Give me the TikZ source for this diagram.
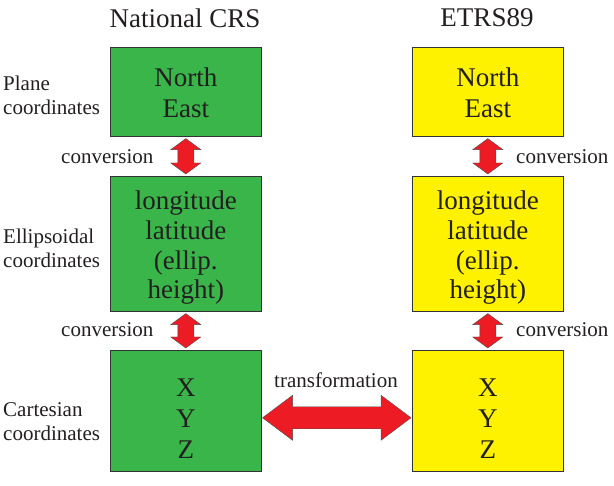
\documentclass[tikz,border=0pt]{standalone}
\usepackage{fontspec}
\setmainfont{Liberation Serif}
\usetikzlibrary{calc}
\definecolor{boxgreen}{RGB}{57,181,74}
\definecolor{boxyellow}{RGB}{255,242,0}
\definecolor{arrowred}{RGB}{237,28,36}
\definecolor{txt}{RGB}{35,31,32}
\newcommand\vdarrow[2]{%
  \filldraw[arrowstyle] (#1) -- ($(#1)+(15,11)$) -- ($(#1)+(8,11)$) -- ($(#2)+(8,-11)$) -- ($(#2)+(15,-11)$) -- (#2)
   -- ($(#2)+(-15,-11)$) -- ($(#2)+(-8,-11)$) -- ($(#1)+(-8,11)$) -- ($(#1)+(-15,11)$) -- cycle;}
\begin{document}
\begin{tikzpicture}[x=1pt,y=-1pt,
  every node/.style={text=txt, inner sep=0pt},
  crsbox/.style={draw=black!80, line width=0.6pt, anchor=north west, minimum width=151pt},
  boxtext/.style={align=center, font=\fontsize{27}{31}\selectfont},
  green/.style={fill=boxgreen},
  yellow/.style={fill=boxyellow},
  title/.style={font=\fontsize{27}{31}\selectfont},
  lbl/.style={font=\fontsize{21}{24}\selectfont, align=left, anchor=west},
  arrowstyle/.style={fill=arrowred, draw=black!70, line width=0.4pt}]
\useasboundingbox (0,0) rectangle (614,486);
% titles
\node[title] (t1) at (185,18) {National CRS};
\node[title] (t2) at (487,18) {ETRS89};
% boxes
\node[crsbox, green, minimum height=89pt] (g1) at (110,47) {};
\node[crsbox, green, minimum height=135pt] (g2) at (110,176) {};
\node[crsbox, green, minimum height=121pt] (g3) at (110,350) {};
\node[crsbox, yellow, minimum height=89pt] (y1) at (412,47) {};
\node[crsbox, yellow, minimum height=135pt] (y2) at (412,176) {};
\node[crsbox, yellow, minimum height=121pt] (y3) at (412,350) {};
% box texts
\node[boxtext] (g1t) at ($(g1.center)+(0,1)$) {North\\East};
\node[boxtext, font=\fontsize{27}{29.7}\selectfont] (g2t) at ($(g2.center)+(0,4)$) {longitude\\latitude\\(ellip.\\height)};
\node[boxtext] (g3t) at ($(g3.center)+(0,7.5)$) {X\\Y\\Z};
\node[boxtext] (y1t) at ($(y1.center)+(0,1)$) {North\\East};
\node[boxtext, font=\fontsize{27}{29.7}\selectfont] (y2t) at ($(y2.center)+(0,4)$) {longitude\\latitude\\(ellip.\\height)};
\node[boxtext] (y3t) at ($(y3.center)+(0,7.5)$) {X\\Y\\Z};
% side labels
\node[lbl] (l1) at (3,95) {Plane\\coordinates};
\node[lbl] (l2) at (3,248) {Ellipsoidal\\coordinates};
\node[lbl] (l3) at (3,422) {Cartesian\\coordinates};
% vertical arrows
\coordinate (a1) at ($(g1.south)+(0,2)$); \coordinate (b1) at ($(g2.north)+(0,-2)$);
\coordinate (a2) at ($(g2.south)+(0,2)$); \coordinate (b2) at ($(g3.north)+(0,-2)$);
\coordinate (a3) at ($(y1.south)+(0,2)$); \coordinate (b3) at ($(y2.north)+(0,-2)$);
\coordinate (a4) at ($(y2.south)+(0,2)$); \coordinate (b4) at ($(y3.north)+(0,-2)$);
\vdarrow{a1}{b1}
\vdarrow{a2}{b2}
\vdarrow{a3}{b3}
\vdarrow{a4}{b4}
\node[lbl] (c1) at (61,157) {conversion};
\node[lbl] (c2) at (61,330) {conversion};
\node[lbl] (c3) at (516,157) {conversion};
\node[lbl] (c4) at (516,330) {conversion};
% horizontal arrow
\coordinate (hl) at ($(g3.east)+(1,7)$);
\coordinate (hr) at ($(y3.west)+(-1,7)$);
\filldraw[arrowstyle] (hl) -- ($(hl)+(30,-22.5)$) -- ($(hl)+(30,-11)$) -- ($(hr)+(-30,-11)$) -- ($(hr)+(-30,-22.5)$) -- (hr)
  -- ($(hr)+(-30,22.5)$) -- ($(hr)+(-30,11)$) -- ($(hl)+(30,11)$) -- ($(hl)+(30,22.5)$) -- cycle;
\node[font=\fontsize{21}{24}\selectfont] (tr) at (336,380) {transformation};
\end{tikzpicture}
\end{document}
